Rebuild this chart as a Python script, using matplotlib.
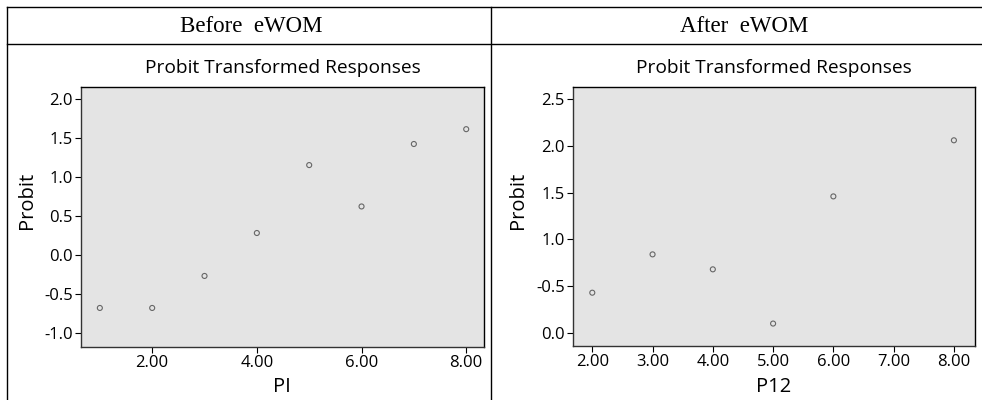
import matplotlib.pyplot as plt
from matplotlib.lines import Line2D

# data
x_before = [1, 2, 3, 4, 5, 6, 7, 8]
y_before = [-0.68, -0.68, -0.27, 0.28, 1.15, 0.62, 1.42, 1.61]

x_after = [2, 3, 4, 5, 6, 8]
y_after = [0.43, 0.84, 0.68, 0.10, 1.46, 2.06]

before_yticks = [-1.0, -0.5, 0.0, 0.5, 1.0, 1.5, 2.0]
before_ylabels = ['-1.0', '-0.5', '0.0', '0.5', '1.0', '1.5', '2.0']
before_xticks = [2, 4, 6, 8]
before_xlabels = ['2.00', '4.00', '6.00', '8.00']

after_yticks = [0.0, 0.5, 1.0, 1.5, 2.0, 2.5]
after_ylabels = ['0.0', '-0.5', '1.0', '1.5', '2.0', '2.5']  # as printed in the source
after_xticks = [2, 3, 4, 5, 6, 7, 8]
after_xlabels = ['2.00', '3.00', '4.00', '5.00', '6.00', '7.00', '8.00']

W, H = 982, 400
sans = 'Open Sans'
serif = 'Liberation Serif'

fig = plt.figure(figsize=(W / 100, H / 100), dpi=100)


def fx(px):
    return px / W


def fy(py):
    return 1 - py / H


# table lines
kw = dict(color='k', linewidth=1, transform=fig.transFigure)
fig.add_artist(Line2D([fx(7), 1], [fy(7), fy(7)], **kw))
fig.add_artist(Line2D([fx(7), 1], [fy(44), fy(44)], **kw))
fig.add_artist(Line2D([fx(7), fx(7)], [fy(7), 0], **kw))
fig.add_artist(Line2D([fx(491), fx(491)], [fy(7), 0], **kw))

fig.text(fx(251), fy(26), 'Before  eWOM', family=serif, fontsize=16.5,
         ha='center', va='center')
fig.text(fx(744), fy(26), 'After  eWOM', family=serif, fontsize=16.5,
         ha='center', va='center')


def panel(rect, xs, ys, xlim, ylim, xt, xl, yt, yl, xlabel, ylabel_x, xlabel_x):
    l, t, r, b = rect
    ax = fig.add_axes([fx(l), fy(b), fx(r - l), (b - t) / H])
    ax.set_facecolor('#e4e4e4')
    ax.scatter(xs, ys, s=13, facecolors='none', edgecolors='#666666',
               linewidths=0.8, zorder=3)
    ax.set_xlim(*xlim)
    ax.set_ylim(*ylim)
    ax.set_xticks(xt)
    ax.set_xticklabels(xl)
    ax.set_yticks(yt)
    ax.set_yticklabels(yl)
    ax.tick_params(labelsize=12, length=4, width=0.8, pad=2)
    for lab in ax.get_xticklabels() + ax.get_yticklabels():
        lab.set_family(sans)
    for s in ax.spines.values():
        s.set_linewidth(1)
    ax.spines['left'].set_color('#333333')
    ax.spines['bottom'].set_color('#333333')
    fig.text(fx((l + r) / 2), fy(68), 'Probit Transformed Responses',
             family=sans, fontsize=13.8, ha='center', va='center')
    fig.text(fx(xlabel_x), fy(387), xlabel, family=sans, fontsize=14.5,
             ha='center', va='center')
    fig.text(fx(ylabel_x), fy(200), 'Probit', family=sans, fontsize=14.5,
             ha='center', va='center', rotation=90)
    return ax


panel((81, 87, 484, 347), x_before, y_before, (0.64, 8.34), (-1.18, 2.15),
      before_xticks, before_xlabels, before_yticks, before_ylabels,
      'PI', 27, 282)
panel((573, 87, 975, 346), x_after, y_after, (1.68, 8.35), (-0.14, 2.63),
      after_xticks, after_xlabels, after_yticks, after_ylabels,
      'P12', 518, 774)

fig.savefig('out.png', dpi=100)
